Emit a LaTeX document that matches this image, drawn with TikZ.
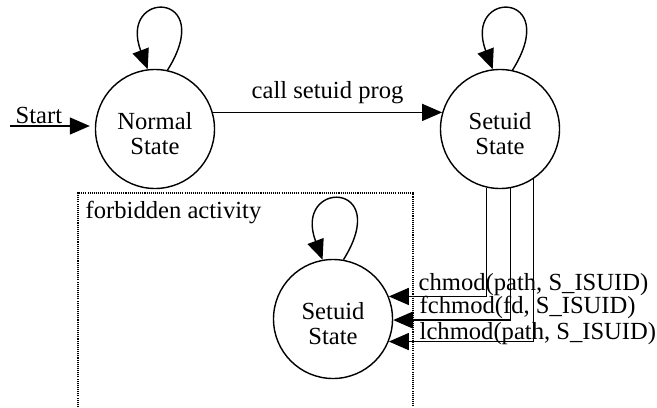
\documentclass[tikz,border=0pt]{standalone}
\usepackage{fontspec}
\setmainfont{Liberation Serif}
\usetikzlibrary{arrows.meta}
\begin{document}
\begin{tikzpicture}[>={Triangle[length=.4cm,width=.34cm]}, line width=.8pt,
    font=\fontsize{14pt}{14.2pt}\selectfont,
    state/.style={circle, draw, minimum size=2.38cm, inner sep=0pt, align=center, text height=29.5pt},
    txt/.style={anchor=base west, inner sep=0pt}]
    \useasboundingbox (0,0) rectangle (13.14,-8.14);
    \node[state] (normal) at (3.1,-2.58) {Normal\\State};
    \node[state] (setuid) at (10,-2.58) {Setuid\\State};
    \node[state] (forbid) at (6.66,-6.38) {Setuid\\State};
    % self loops
    \draw[->] (normal.78) .. controls +(1,1.6) and +(-.6,1.6) .. (normal.97);
    \draw[->] (setuid.78) .. controls +(1,1.6) and +(-.6,1.6) .. (setuid.97);
    \draw[->] (forbid.80) .. controls +(1,1.6) and +(-.6,1.6) .. (forbid.100);
    % start
    \coordinate (start) at (.2,-2.52);
    \draw[->, shorten >=.1cm] (start) -- (start -| normal.west);
    \node[txt] (startlbl) at (.3,-2.46) {Start};
    \draw[->] (normal.16) -- node[anchor=base, yshift=.28cm, inner sep=0pt] (calllbl) {call setuid prog} (setuid.164);
    % forbidden region
    \draw[line width=.6pt, dash pattern=on .6pt off .6pt] (1.56,-8.14) |- (8.26,-3.86) -- (8.26,-8.14);
    \node[txt] (forbidlbl) at (1.7,-4.36) {forbidden activity};
    \draw[->] (setuid.257) |- (forbid.22);
    \draw[->] (setuid.280) |- (forbid.-1);
    \draw[->] (setuid.304) |- (forbid.-22);
    \node[txt] (chmodlbl) at (8.36,-5.8) {chmod(path, S\_ISUID)};
    \node[txt] (fchmodlbl) at (8.38,-6.26) {fchmod(fd, S\_ISUID)};
    \node[txt] (lchmodlbl) at (8.38,-6.78) {lchmod(path, S\_ISUID)};
\end{tikzpicture}
\end{document}
